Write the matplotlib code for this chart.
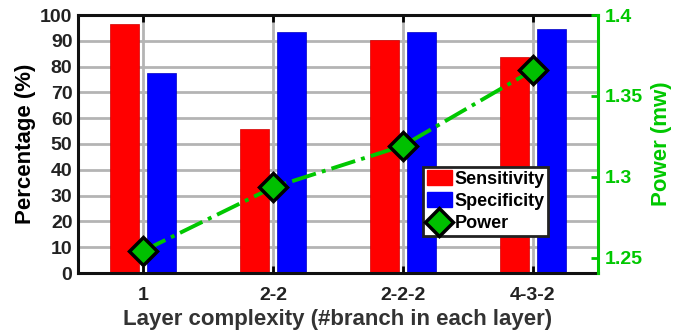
import numpy as np
import matplotlib
matplotlib.use("Agg")
import matplotlib.pyplot as plt
from matplotlib.lines import Line2D
from matplotlib.patches import Patch

plt.rcParams['font.family'] = ['Liberation Sans', 'DejaVu Sans']
plt.rcParams['font.weight'] = 'bold'

categories = ["1", "2-2", "2-2-2", "4-3-2"]
sensitivity = [96.4, 55.7, 90.3, 83.8]
specificity = [77.6, 93.5, 93.5, 94.6]
power = [1.2543, 1.2936, 1.3193, 1.366]

green = "#00c800"
x = np.arange(1, len(categories) + 1)
w = 0.225
off = 0.145

fig = plt.figure(figsize=(6.81, 3.32), dpi=100)
ax = fig.add_axes([78/681, 1 - 273/332, 520/681, 258/332])

ax.set_axisbelow(True)
ax.grid(True, color="#b4b4b4", linewidth=2)
ax.bar(x - off, sensitivity, w, color="red", edgecolor="#d00000", linewidth=0.5, zorder=2)
ax.bar(x + off, specificity, w, color="blue", edgecolor="#0000c0", linewidth=0.5, zorder=2)

ax.set_xlim(0.5, 4.5)
ax.set_ylim(0, 100)
ax.set_yticks(range(0, 101, 10))
ax.set_xticks(x)
ax.set_xticklabels(categories)
ax.tick_params(axis="both", direction="in", labelsize=14, width=2, length=5,
               top=True, pad=10, labelcolor="#222222")
ax.tick_params(axis="y", length=0, pad=4)
for s in ["left", "bottom", "top"]:
    ax.spines[s].set_linewidth(2.2)
    ax.spines[s].set_color("#111111")
ax.spines["right"].set_visible(False)
ax.set_ylabel("Percentage (%)", fontsize=16, fontweight="bold", labelpad=3)
ax.set_xlabel("Layer complexity (#branch in each layer)", fontsize=16,
              fontweight="bold", color="#333333", labelpad=4)

ax2 = ax.twinx()
ax2.plot(x, power, linestyle="-.", color=green, linewidth=2.8, marker="D",
         markersize=14, markerfacecolor="#00c000", markeredgecolor="black",
         markeredgewidth=2.5, zorder=5)
ax2.set_ylim(1.2407, 1.4)
ax2.set_yticks([1.25, 1.3, 1.35, 1.4])
ax2.set_yticklabels(["1.25", "1.3", "1.35", "1.4"])
ax2.tick_params(axis="y", direction="in", colors=green, labelsize=14, width=2,
                length=5, pad=5)
for lab in ax2.get_yticklabels():
    lab.set_fontweight("bold")
for s in ["left", "bottom", "top"]:
    ax2.spines[s].set_visible(False)
ax2.spines["right"].set_color(green)
ax2.spines["right"].set_linewidth(2.2)
ax2.set_ylabel("Power (mw)", fontsize=16, fontweight="bold", color=green, labelpad=6)

handles = [Patch(facecolor="red", edgecolor="red"),
           Patch(facecolor="blue", edgecolor="blue"),
           Line2D([], [], linestyle="none", color=green, marker="D",
                  markersize=14, markerfacecolor="#00c000", markeredgecolor="black",
                  markeredgewidth=2.5)]
leg = ax2.legend(handles, ["Sensitivity", "Specificity", "Power"],
                 loc="lower left", bbox_to_anchor=((423-78)/520, (273-236)/258),
                 fontsize=13, frameon=True, fancybox=False, borderpad=0.2,
                 labelspacing=0.25, handlelength=1.4, handleheight=0.9,
                 handletextpad=0.15, borderaxespad=0)
leg.get_frame().set_edgecolor("#222222")
leg.get_frame().set_linewidth(2)
leg.get_frame().set_alpha(1)
for t in leg.get_texts():
    t.set_fontweight("bold")

fig.savefig("out.png", dpi=100)
